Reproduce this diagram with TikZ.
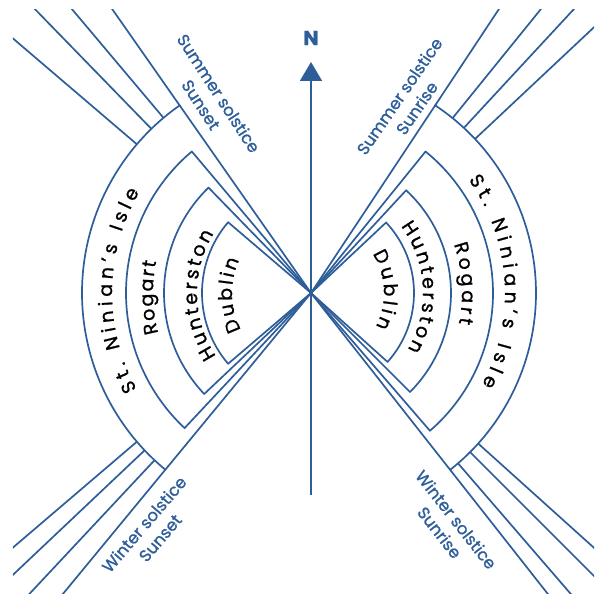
\documentclass[tikz,border=0pt]{standalone}
\usepackage{fontspec}
\setmainfont{Poppins}[FakeBold=1.1]
\usetikzlibrary{arrows.meta,decorations.text}
\definecolor{LineClr}{RGB}{46,94,154}
\newcommand\sitefont{\fontsize{19}{19}\selectfont}

\begin{document}
\begin{tikzpicture}[x=1pt,y=1pt,line width=1.7pt,color=LineClr,line join=round,
  site/.style={decorate,decoration={text along path,text align=fit to path,text={|\sitefont|#1}}},
  sun/.style={font=\fontsize{16.5}{21}\selectfont,align=center,inner sep=0pt}]
\useasboundingbox (-311,-306) rectangle (283,293);
\coordinate (O) at (0,0);

\foreach \a/\b/\r in {56.5/-51.8/225,51/-49.2/182,47.2/-45/140,43.2/-42/103}
  \draw (O) -- (\a:\r) arc[start angle=\a,end angle=\b,radius=\r] -- cycle;
\foreach \a/\b/\r in {125/230.5/229,130.1/226.9/185,134.2/223.4/147,139.5/220.5/109}
  \draw (O) -- (\a:\r) arc[start angle=\a,end angle=\b,radius=\r] -- cycle;

\begin{scope}
\clip (-298,-300) rectangle (283,283);
\foreach \a in {56.5,51,47.2,43.2,-51.8,-49.2,-45,-42} \draw (\a:225) -- (\a:500);
\foreach \a in {125,130.1,134.2,139.5,230.5,226.9,223.4,220.5} \draw (\a:229) -- (\a:500);
\end{scope}

\draw[-{Triangle[width=22pt,length=19pt]}] (0,-202) -- (0,231);
\node[font=\bfseries\fontsize{20}{20}\selectfont] (N) at (0,255) {N};

\node[sun,rotate=-57] (SumSet) at (-101,194) {Summer solstice\\Sunset};
\node[sun,rotate=55.5] (SumRise) at (97,191) {Summer solstice\\Sunrise};
\node[sun,rotate=49.5] (WinSet) at (-159,-238) {Winter solstice\\Sunset};
\node[sun,rotate=-52] (WinRise) at (137,-233) {Winter solstice\\Sunrise};

\path[site=St. Ninian's Isle] (35.7:194) arc[start angle=35.7,end angle=-28.2,radius=194];
\path[site=Rogart] (18.8:151) arc[start angle=18.8,end angle=-11.7,radius=151];
\path[site=Hunterston] (36.6:112) arc[start angle=36.6,end angle=-30.3,radius=112];
\path[site=Dublin] (32.5:73) arc[start angle=32.5,end angle=-27.5,radius=73];

\path[site=St. Ninian's Isle] (208.9:199) arc[start angle=208.9,end angle=149.5,radius=199];
\path[site=Rogart] (194.7:158) arc[start angle=194.7,end angle=168.5,radius=158];
\path[site=Hunterston] (213.6:114) arc[start angle=213.6,end angle=148.6,radius=114];
\path[site=Dublin] (207.7:79) arc[start angle=207.7,end angle=155.3,radius=79];
\end{tikzpicture}
\end{document}
